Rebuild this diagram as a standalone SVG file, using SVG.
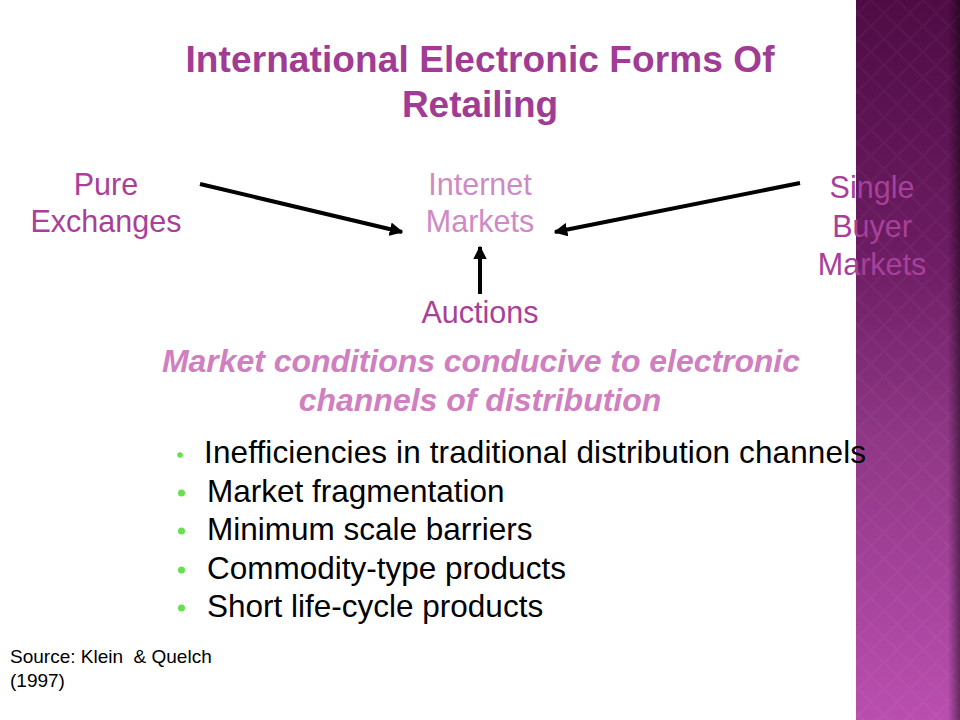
<svg xmlns="http://www.w3.org/2000/svg" width="960" height="720" viewBox="0 0 960 720">
<defs>
<linearGradient id="bandGrad" x1="0" y1="0" x2="0" y2="1">
<stop offset="0" stop-color="#4e0c44"/>
<stop offset="0.35" stop-color="#6c1c62"/>
<stop offset="0.6" stop-color="#8e3684"/>
<stop offset="1" stop-color="#ba4eaf"/>
</linearGradient>
<linearGradient id="edgeShade" x1="0" y1="0" x2="1" y2="0">
<stop offset="0" stop-color="#000" stop-opacity="0"/>
<stop offset="1" stop-color="#000" stop-opacity="0.45"/>
</linearGradient>
<pattern id="diamonds" width="26" height="26" patternUnits="userSpaceOnUse">
<path d="M0 13 L13 0 L26 13 L13 26 Z" fill="none" stroke="#ffffff" stroke-opacity="0.03" stroke-width="2"/>
</pattern>
<marker id="arrow" viewBox="0 0 10 10" refX="9" refY="5" markerWidth="3.4" markerHeight="3.4" orient="auto" markerUnits="strokeWidth">
<path d="M0 0 L10 5 L0 10 Z" fill="#000"/>
</marker>
<style>
.t{font-family:"Liberation Sans",Arial,sans-serif;text-anchor:middle}
.title{font-size:37px;font-weight:bold;fill:#a03c94}
.node{font-size:30.5px;fill:#a8409a}
.inet{font-size:30.5px;fill:#cf8ac6}
.sub{font-size:32px;font-weight:bold;font-style:italic;fill:#d07fc0}
.bul{font-family:"Liberation Sans",Arial,sans-serif;font-size:31.5px;fill:#000}
.dot{fill:#66e04e}
.src{font-family:"Liberation Sans",Arial,sans-serif;font-size:19px;fill:#000;white-space:pre}
.conn{stroke:#000;stroke-width:4;fill:none}
</style>
</defs>
<rect width="960" height="720" fill="#ffffff"/>
<g id="band">
<rect x="856" y="0" width="104" height="720" fill="url(#bandGrad)"/>
<rect x="856" y="0" width="104" height="720" fill="url(#diamonds)"/>
<rect x="948" y="0" width="12" height="720" fill="url(#edgeShade)"/>
</g>
<g id="title">
<text class="t title" x="480" y="72" textLength="589" lengthAdjust="spacing">International Electronic Forms Of</text>
<text class="t title" x="480" y="117">Retailing</text>
</g>
<g id="connectors">
<line class="conn" x1="200" y1="184" x2="402" y2="232" marker-end="url(#arrow)"/>
<line class="conn" x1="800" y1="183" x2="555" y2="232" marker-end="url(#arrow)"/>
<line class="conn" x1="480" y1="294" x2="480" y2="247" marker-end="url(#arrow)"/>
</g>
<g id="pure-exchanges">
<text class="t node" x="106" y="195">Pure</text>
<text class="t node" x="106" y="232">Exchanges</text>
</g>
<g id="internet-markets">
<text class="t inet" x="480" y="195">Internet</text>
<text class="t inet" x="480" y="232">Markets</text>
</g>
<g id="auctions">
<text class="t node" x="480" y="323">Auctions</text>
</g>
<g id="single-buyer-markets">
<text class="t node" x="872" y="198">Single</text>
<text class="t node" x="872" y="237">Buyer</text>
<text class="t node" x="872" y="275">Markets</text>
</g>
<g id="subtitle">
<text class="t sub" x="481" y="372" textLength="638" lengthAdjust="spacing">Market conditions conducive to electronic</text>
<text class="t sub" x="480" y="411">channels of distribution</text>
</g>
<g id="bullets">
<circle class="dot" cx="180" cy="455" r="2.8"/>
<text class="bul" x="204" y="463" textLength="662" lengthAdjust="spacing">Inefficiencies in traditional distribution channels</text>
<circle class="dot" cx="181.5" cy="493" r="3.5"/>
<text class="bul" x="207" y="502">Market fragmentation</text>
<circle class="dot" cx="181.5" cy="531" r="3.5"/>
<text class="bul" x="207" y="540">Minimum scale barriers</text>
<circle class="dot" cx="181.5" cy="570" r="3.5"/>
<text class="bul" x="207" y="579">Commodity-type products</text>
<circle class="dot" cx="181.5" cy="608" r="3.5"/>
<text class="bul" x="207" y="617">Short life-cycle products</text>
</g>
<g id="source">
<text class="src" x="10" y="663">Source: Klein  &amp; Quelch</text>
<text class="src" x="10" y="687">(1997)</text>
</g>
</svg>
